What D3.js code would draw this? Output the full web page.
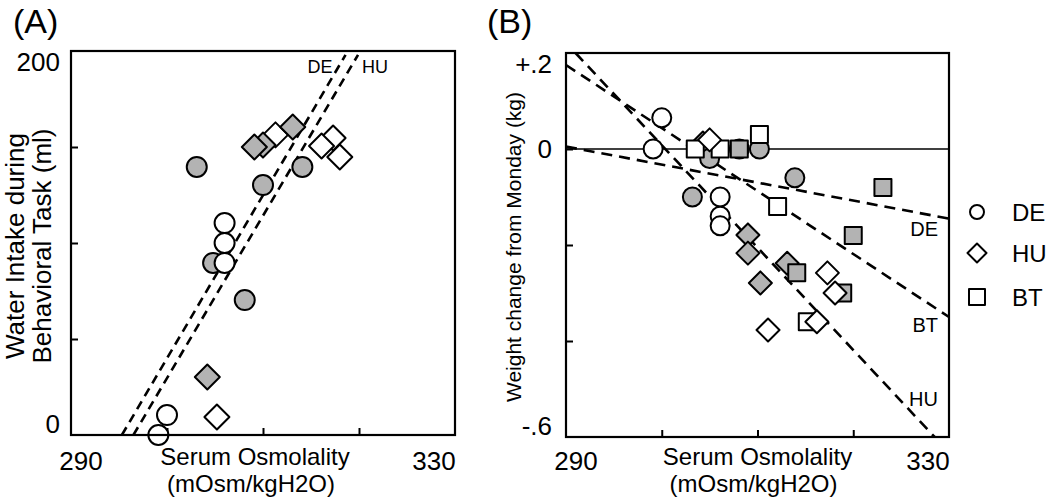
<!DOCTYPE html>
<html>
<head>
<meta charset="utf-8">
<script src="https://cdn.jsdelivr.net/npm/d3@7"></script>
<style>
  body { margin: 0; background: #fff; }
  text { font-family: "Liberation Sans", Arial, sans-serif; fill: #000; }
</style>
</head>
<body>
<div id="container"></div>
<script>
// ---------- data ----------
var groups = ["DE", "HU", "BT"];
var xTickValues = [290, 300, 310, 320, 330];
var xTickLabels = ["290", "", "", "", "330"];

// (A) water intake (ml) vs serum osmolality
var aYTickValues = [0, 50, 100, 150, 200];
var aYTickLabels = ["0", "", "", "", "200"];
var aDEFilled = [[303.1, 139.6], [310.0, 130.2], [314.1, 139.6], [308.1, 70.3], [304.8, 89.6]];
var aDEOpen   = [[306.0, 110.4], [306.0, 100.0], [306.0, 89.6], [300.0, 10.4], [299.1, 0]];
var aHUOpen   = [[311.3, 156.3], [317.3, 154.7], [316.1, 150.5], [318.0, 144.8], [305.2, 9.4]];
var aHUFilled = [[310.0, 151.0], [309.1, 150.0], [313.1, 160.4], [304.2, 30.2]];
var aFitDE = [[295.3, 0], [318.6, 198]];
var aFitHU = [[296.5, 0], [319.9, 198]];

// (B) weight change from Monday (kg) vs serum osmolality
var bYTickValues = [0.2, 0, -0.2, -0.4, -0.6];
var bYTickLabels = ["+.2", "0", "", "", "-.6"];
var bDEFilled = [[303.2, -0.10], [305.0, -0.02], [308.1, 0.0], [310.2, 0.0], [313.9, -0.06]];
var bDEOpen   = [[300.0, 0.065], [299.1, 0.0], [306.1, -0.10], [306.1, -0.14], [306.1, -0.16]];
var bHUFilled = [[304.3, 0.0125], [309.0, -0.179], [309.0, -0.217], [310.3, -0.279], [313.1, -0.238]];
var bHUOpen   = [[305.0, 0.019], [317.3, -0.258], [318.1, -0.30], [316.2, -0.36], [311.1, -0.377]];
var bBTFilled = [[308.1, 0.0], [323.1, -0.08], [320.0, -0.18], [314.1, -0.258], [318.9, -0.30]];
var bBTOpen   = [[303.5, 0.0], [306.1, 0.0], [310.2, 0.03], [312.1, -0.12], [315.2, -0.36]];
var bFitDE = [[290, 0.005], [330, -0.145]];
var bFitBT = [[290, 0.175], [330, -0.35]];
var bFitHU = [[291.0, 0.2], [328.5, -0.6]];

var gray = "#b3b3b3";

var svg = d3.select("#container")
            .append("svg")
            .attr("width", 1050)
            .attr("height", 503);

// one marker: circle / diamond / square
function drawMarker(g, shape, cx, cy, s, fill, sw) {
  var m;
  if (shape === "circle") {
    m = g.append("circle").attr("cx", cx).attr("cy", cy).attr("r", s);
  } else if (shape === "diamond") {
    m = g.append("path")
         .attr("d", "M" + cx + "," + (cy - s) + "L" + (cx + s) + "," + cy +
                    "L" + cx + "," + (cy + s) + "L" + (cx - s) + "," + cy + "Z");
  } else {
    m = g.append("rect").attr("x", cx - s).attr("y", cy - s)
         .attr("width", 2 * s).attr("height", 2 * s);
  }
  m.attr("fill", fill).attr("stroke", "#000").attr("stroke-width", sw || 2)
   .attr("stroke-linejoin", "round");
}

function makePanel(p) {
  var x = d3.scaleLinear().domain([290, 330]).range([p.left, p.right]);
  var y = d3.scaleLinear().domain(p.yDomain).range([p.bottom, p.top]);
  var g = svg.append("g");

  g.append("clipPath").attr("id", p.id + "-clip")
   .append("rect")
   .attr("x", p.left).attr("y", p.top)
   .attr("width", p.right - p.left).attr("height", p.bottom - p.top);

  // inward ticks
  var xAxis = d3.axisBottom(x).tickValues(xTickValues.slice(1, -1))
                .tickSize(-7).tickSizeOuter(0).tickFormat("");
  var yAxis = d3.axisLeft(y).tickValues(p.yTicks.slice(1, -1))
                .tickSize(-7).tickSizeOuter(0).tickFormat("");
  g.append("g").attr("transform", "translate(0," + p.bottom + ")").call(xAxis);
  g.append("g").attr("transform", "translate(" + p.left + ",0)").call(yAxis);
  g.selectAll(".domain").remove();
  g.selectAll(".tick line").attr("stroke-width", 2);

  // tick labels, pulled inside the frame at the ends
  p.yTicks.forEach(function(v, i) {
    if (!p.yLabels[i]) return;
    var cy = Math.max(p.top + 11, Math.min(p.bottom - 11, y(v)));
    g.append("text").attr("x", p.yLabelX).attr("y", cy).attr("dy", "0.36em")
     .attr("text-anchor", "end").attr("font-size", 26).text(p.yLabels[i]);
  });
  xTickValues.forEach(function(v, i) {
    if (!xTickLabels[i]) return;
    var cx = Math.max(p.left + 10, Math.min(p.right - 21, x(v)));
    g.append("text").attr("x", cx).attr("y", 470)
     .attr("text-anchor", "middle").attr("font-size", 26).text(xTickLabels[i]);
  });

  // x title, two lines
  var tx = (p.left + p.right) / 2 + p.titleDx;
  g.append("text").attr("x", tx).attr("y", 465).attr("text-anchor", "middle")
   .attr("font-size", 24).text("Serum Osmolality");
  g.append("text").attr("x", tx - 4).attr("y", 492).attr("text-anchor", "middle")
   .attr("font-size", 24).text("(mOsm/kgH2O)");

  // panel letter
  g.append("text").attr("x", p.letterX).attr("y", 33).attr("font-size", 34).text(p.letter);

  return {x: x, y: y, g: g};
}

function fitLine(P, pts, dash) {
  var line = d3.line().x(function(d) { return P.x(d[0]); })
                      .y(function(d) { return P.y(d[1]); });
  P.g.append("path").datum(pts)
     .attr("d", line)
     .attr("clip-path", "url(#" + P.id + "-clip)")
     .attr("fill", "none").attr("stroke", "#000")
     .attr("stroke-width", 2.6).attr("stroke-dasharray", dash);
}

function points(P, data, shape, size, fill) {
  var mg = P.g.append("g");
  data.forEach(function(d) {
    drawMarker(mg, shape, P.x(d[0]), P.y(d[1]), size, fill);
  });
}

// ---------- panel A ----------
var A = makePanel({id: "a", left: 71, top: 51, right: 455, bottom: 435,
                   yDomain: [0, 200], yTicks: aYTickValues, yLabels: aYTickLabels,
                   yLabelX: 60, titleDx: -8, letter: "(A)", letterX: 13});
A.id = "a";
fitLine(A, aFitDE, "9,6");
fitLine(A, aFitHU, "9,6");
A.g.append("text").attr("x", A.x(aFitDE[1][0]) - 13).attr("y", A.y(aFitDE[1][1]) + 18)
   .attr("text-anchor", "end").attr("font-size", 18).text(groups[0]);
A.g.append("text").attr("x", A.x(aFitHU[1][0]) + 4).attr("y", A.y(aFitHU[1][1]) + 18)
   .attr("text-anchor", "start").attr("font-size", 18).text(groups[1]);

points(A, aDEFilled, "circle", 10, gray);
points(A, aDEOpen, "circle", 10, "#fff");
points(A, aHUOpen, "diamond", 12.5, "#fff");
points(A, aHUFilled, "diamond", 12.5, gray);

A.g.append("rect").attr("x", 71).attr("y", 51).attr("width", 384).attr("height", 384)
   .attr("fill", "none").attr("stroke", "#000").attr("stroke-width", 2.2);

// y title A
A.g.append("text").attr("transform", "translate(24,246) rotate(-90)")
   .attr("text-anchor", "middle").attr("font-size", 26).text("Water Intake during");
A.g.append("text").attr("transform", "translate(51,246) rotate(-90)")
   .attr("text-anchor", "middle").attr("font-size", 26).text("Behavioral Task (ml)");

// ---------- panel B ----------
var B = makePanel({id: "b", left: 566, top: 53, right: 949, bottom: 437,
                   yDomain: [-0.6, 0.2], yTicks: bYTickValues.slice().reverse(),
                   yLabels: bYTickLabels.slice().reverse(),
                   yLabelX: 552, titleDx: 0, letter: "(B)", letterX: 487});
B.id = "b";

// zero line
B.g.append("line").attr("x1", B.x(290)).attr("x2", B.x(330))
   .attr("y1", B.y(0)).attr("y2", B.y(0))
   .attr("stroke", "#000").attr("stroke-width", 1.6);

fitLine(B, bFitDE, "11,7");
fitLine(B, bFitBT, "11,7");
fitLine(B, bFitHU, "11,7");

// line labels
var bLabelDy = {DE: 22, BT: 31, HU: -21};
[["DE", bFitDE], ["BT", bFitBT], ["HU", bFitHU]].forEach(function(l) {
  var fit = l[1];
  var px = B.x.invert(925);
  var t = (px - fit[0][0]) / (fit[1][0] - fit[0][0]);
  var yv = fit[0][1] + t * (fit[1][1] - fit[0][1]);
  B.g.append("text").attr("x", 938).attr("y", B.y(yv) + bLabelDy[l[0]])
     .attr("text-anchor", "end").attr("font-size", 20).text(l[0]);
});

points(B, bHUFilled, "diamond", 11.5, gray);
points(B, bDEFilled, "circle", 9.5, gray);
points(B, bDEOpen, "circle", 9.5, "#fff");
points(B, bBTFilled, "square", 8.5, gray);
points(B, bBTOpen, "square", 8.5, "#fff");
points(B, bHUOpen, "diamond", 11.5, "#fff");

B.g.append("rect").attr("x", 566).attr("y", 53).attr("width", 383).attr("height", 384)
   .attr("fill", "none").attr("stroke", "#000").attr("stroke-width", 2.2);

B.g.append("text").attr("transform", "translate(521,247) rotate(-90)")
   .attr("text-anchor", "middle").attr("font-size", 21)
   .text("Weight change from Monday (kg)");

// ---------- legend ----------
var legend = svg.append("g");
var legendShapes = ["circle", "diamond", "square"];
var legendSizes = [7, 9.5, 8];
var legendY = [212, 253, 297];
groups.forEach(function(name, i) {
  drawMarker(legend, legendShapes[i], 977, legendY[i], legendSizes[i], "#fff", 2);
  legend.append("text").attr("x", 1012).attr("y", legendY[i]).attr("dy", "0.36em")
        .attr("font-size", 24).text(name);
});
</script>
</body>
</html>
